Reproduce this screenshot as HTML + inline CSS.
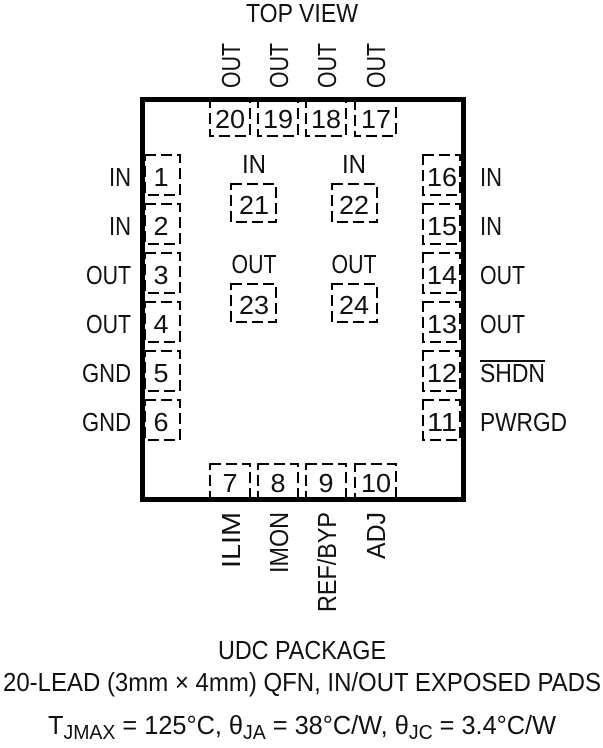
<!DOCTYPE html>
<html><head><style>html,body{margin:0;padding:0;background:#fff}svg{display:block}</style></head>
<body>
<svg width="603" height="748" viewBox="0 0 603 748" xmlns="http://www.w3.org/2000/svg" font-family="Liberation Sans, sans-serif" font-size="26" fill="#111">
<rect x="142.5" y="99.5" width="321" height="400" fill="none" stroke="#000" stroke-width="5"/>
<g fill="none" stroke="#000" stroke-width="2" stroke-dasharray="11,5">
<rect x="210" y="100" width="40" height="36"/>
<rect x="258" y="100" width="40" height="36"/>
<rect x="306" y="100" width="40" height="36"/>
<rect x="355" y="100" width="41" height="36"/>
<rect x="210" y="464" width="40" height="35"/>
<rect x="258" y="464" width="40" height="35"/>
<rect x="306" y="464" width="40" height="35"/>
<rect x="355" y="464" width="41" height="35"/>
<rect x="145" y="155" width="35" height="40"/>
<rect x="145" y="204" width="35" height="40"/>
<rect x="145" y="253" width="35" height="40"/>
<rect x="145" y="302" width="35" height="40"/>
<rect x="145" y="351" width="35" height="40"/>
<rect x="145" y="400" width="35" height="40"/>
<rect x="423" y="155" width="37" height="40"/>
<rect x="423" y="204" width="37" height="40"/>
<rect x="423" y="253" width="37" height="40"/>
<rect x="423" y="302" width="37" height="40"/>
<rect x="423" y="351" width="37" height="40"/>
<rect x="423" y="400" width="37" height="40"/>
<rect x="231" y="184" width="45" height="38"/>
<rect x="332" y="184" width="45" height="38"/>
<rect x="231" y="284" width="45" height="38"/>
<rect x="332" y="284" width="45" height="38"/>
</g>
<g text-anchor="middle">
<text x="302" y="22" textLength="112" lengthAdjust="spacingAndGlyphs">TOP VIEW</text>
<text x="230" y="128" textLength="30" lengthAdjust="spacingAndGlyphs">20</text>
<text x="278" y="128" textLength="30" lengthAdjust="spacingAndGlyphs">19</text>
<text x="326" y="128" textLength="30" lengthAdjust="spacingAndGlyphs">18</text>
<text x="376" y="128" textLength="30" lengthAdjust="spacingAndGlyphs">17</text>
<text x="230" y="492" textLength="15" lengthAdjust="spacingAndGlyphs">7</text>
<text x="278" y="492" textLength="15" lengthAdjust="spacingAndGlyphs">8</text>
<text x="326" y="492" textLength="15" lengthAdjust="spacingAndGlyphs">9</text>
<text x="376" y="492" textLength="30" lengthAdjust="spacingAndGlyphs">10</text>
<text x="161" y="186" textLength="15" lengthAdjust="spacingAndGlyphs">1</text>
<text x="161" y="235" textLength="15" lengthAdjust="spacingAndGlyphs">2</text>
<text x="161" y="284" textLength="15" lengthAdjust="spacingAndGlyphs">3</text>
<text x="161" y="333" textLength="15" lengthAdjust="spacingAndGlyphs">4</text>
<text x="161" y="382" textLength="15" lengthAdjust="spacingAndGlyphs">5</text>
<text x="161" y="431" textLength="15" lengthAdjust="spacingAndGlyphs">6</text>
<text x="442" y="186" textLength="30" lengthAdjust="spacingAndGlyphs">16</text>
<text x="442" y="235" textLength="30" lengthAdjust="spacingAndGlyphs">15</text>
<text x="442" y="284" textLength="30" lengthAdjust="spacingAndGlyphs">14</text>
<text x="442" y="333" textLength="30" lengthAdjust="spacingAndGlyphs">13</text>
<text x="442" y="382" textLength="30" lengthAdjust="spacingAndGlyphs">12</text>
<text x="442" y="431" textLength="30" lengthAdjust="spacingAndGlyphs">11</text>
<text x="254" y="173" textLength="24" lengthAdjust="spacingAndGlyphs">IN</text>
<text x="354" y="173" textLength="24" lengthAdjust="spacingAndGlyphs">IN</text>
<text x="254" y="214" textLength="30" lengthAdjust="spacingAndGlyphs">21</text>
<text x="354" y="214" textLength="30" lengthAdjust="spacingAndGlyphs">22</text>
<text x="254" y="273" textLength="45" lengthAdjust="spacingAndGlyphs">OUT</text>
<text x="354" y="273" textLength="45" lengthAdjust="spacingAndGlyphs">OUT</text>
<text x="254" y="314" textLength="30" lengthAdjust="spacingAndGlyphs">23</text>
<text x="354" y="314" textLength="30" lengthAdjust="spacingAndGlyphs">24</text>
<text x="302" y="659" textLength="168" lengthAdjust="spacingAndGlyphs">UDC PACKAGE</text>
<text x="302" y="691" textLength="598" lengthAdjust="spacingAndGlyphs">20-LEAD (3mm × 4mm) QFN, IN/OUT EXPOSED PADS</text>
</g>
<g text-anchor="end">
<text x="131" y="186" textLength="22" lengthAdjust="spacingAndGlyphs">IN</text>
<text x="131" y="235" textLength="22" lengthAdjust="spacingAndGlyphs">IN</text>
<text x="131" y="284" textLength="45" lengthAdjust="spacingAndGlyphs">OUT</text>
<text x="131" y="333" textLength="45" lengthAdjust="spacingAndGlyphs">OUT</text>
<text x="131" y="382" textLength="49" lengthAdjust="spacingAndGlyphs">GND</text>
<text x="131" y="431" textLength="49" lengthAdjust="spacingAndGlyphs">GND</text>
</g>
<g>
<text x="480" y="186" textLength="22" lengthAdjust="spacingAndGlyphs">IN</text>
<text x="480" y="235" textLength="22" lengthAdjust="spacingAndGlyphs">IN</text>
<text x="480" y="284" textLength="45" lengthAdjust="spacingAndGlyphs">OUT</text>
<text x="480" y="333" textLength="45" lengthAdjust="spacingAndGlyphs">OUT</text>
<text x="480" y="382" textLength="65" lengthAdjust="spacingAndGlyphs">SHDN</text>
<line x1="480" y1="361" x2="545" y2="361" stroke="#111" stroke-width="2"/>
<text x="480" y="431" textLength="87" lengthAdjust="spacingAndGlyphs">PWRGD</text>
</g>
<g>
<text transform="translate(240,88) rotate(-90)" textLength="45" lengthAdjust="spacingAndGlyphs">OUT</text>
<text transform="translate(288,88) rotate(-90)" textLength="45" lengthAdjust="spacingAndGlyphs">OUT</text>
<text transform="translate(336,88) rotate(-90)" textLength="45" lengthAdjust="spacingAndGlyphs">OUT</text>
<text transform="translate(385,88) rotate(-90)" textLength="45" lengthAdjust="spacingAndGlyphs">OUT</text>
</g>
<g text-anchor="end">
<text transform="translate(240,512) rotate(-90)" textLength="56" lengthAdjust="spacingAndGlyphs">ILIM</text>
<text transform="translate(288,512) rotate(-90)" textLength="61" lengthAdjust="spacingAndGlyphs">IMON</text>
<text transform="translate(336,512) rotate(-90)" textLength="100" lengthAdjust="spacingAndGlyphs">REF/BYP</text>
<text transform="translate(385,512) rotate(-90)" textLength="47" lengthAdjust="spacingAndGlyphs">ADJ</text>
</g>
<text x="48" y="734" textLength="508" lengthAdjust="spacingAndGlyphs">T<tspan font-size="20" dy="5">JMAX</tspan><tspan dy="-5"> = 125°C, θ</tspan><tspan font-size="20" dy="5">JA</tspan><tspan dy="-5"> = 38°C/W, θ</tspan><tspan font-size="20" dy="5">JC</tspan><tspan dy="-5"> = 3.4°C/W</tspan></text>
</svg>
</body></html>
